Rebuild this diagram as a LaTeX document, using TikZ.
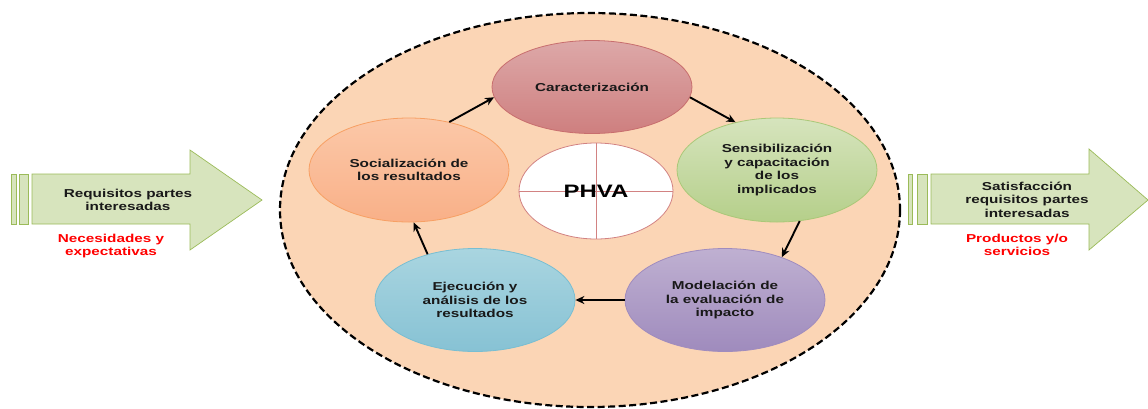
\documentclass[tikz,border=0pt]{standalone}
\usepackage{fontspec}
\setmainfont{Liberation Sans}
\newfontfamily\wf{Liberation Sans}[FakeStretch=1.33]
\usetikzlibrary{arrows.meta,shapes.geometric}
\definecolor{peach}{HTML}{FBD5B5}
\definecolor{grfill}{HTML}{D7E4BD}
\definecolor{grline}{HTML}{9BBB59}
\definecolor{carline}{RGB}{200,110,110}
\definecolor{cartop}{RGB}{221,168,168}
\definecolor{carbot}{RGB}{206,127,127}
\definecolor{senline}{RGB}{170,200,120}
\definecolor{sentop}{RGB}{214,228,189}
\definecolor{senbot}{RGB}{181,207,138}
\definecolor{modline}{RGB}{160,140,190}
\definecolor{modtop}{RGB}{191,176,209}
\definecolor{modbot}{RGB}{159,139,189}
\definecolor{ejeline}{RGB}{120,190,210}
\definecolor{ejetop}{RGB}{169,213,224}
\definecolor{ejebot}{RGB}{135,194,212}
\definecolor{socline}{RGB}{247,160,100}
\definecolor{soctop}{RGB}{251,200,168}
\definecolor{socbot}{RGB}{249,176,136}
\definecolor{phvaline}{RGB}{210,130,130}
\tikzset{
  x=1pt,y=-1pt,
  txt/.style={font=\wf\bfseries\fontsize{11.5}{13.5}\selectfont,align=center,text=black!90},
  redtxt/.style={font=\wf\bfseries\fontsize{11.5}{12.5}\selectfont,align=center,text=red},
  stage/.style={ellipse,minimum width=200pt,inner sep=0pt,line width=0.8pt,txt},
  flow/.style={line width=1.9pt,-{Stealth[length=9pt,width=8pt]}},
  blockarrow/.style={fill=grfill,draw=grline,line width=0.7pt},
}
\begin{document}
\begin{tikzpicture}
\useasboundingbox (0,0) rectangle (1148,408);
% big dashed ellipse
\draw[fill=peach,line width=2.2pt,dash pattern=on 7pt off 3.5pt] (590,210) ellipse [x radius=310,y radius=197];
% stage ellipses
\node[stage,minimum height=93pt,draw=carline,top color=cartop,bottom color=carbot] (car) at (592,87) {Caracterización};
\node[stage,minimum height=104pt,draw=senline,top color=sentop,bottom color=senbot] (sen) at (777,170) {Sensibilización\\y capacitación\\de los\\implicados};
\node[stage,minimum height=103pt,draw=modline,top color=modtop,bottom color=modbot] (mod) at (725,300) {Modelación de\\la evaluación de\\impacto};
\node[stage,minimum height=103pt,draw=ejeline,top color=ejetop,bottom color=ejebot] (eje) at (475,300) {Ejecución y\\análisis de los\\resultados};
\node[stage,minimum height=104pt,draw=socline,top color=soctop,bottom color=socbot] (soc) at (409,170) {Socialización de\\los resultados};
% PHVA
\node[ellipse,minimum width=154pt,minimum height=96pt,inner sep=0pt,fill=white,draw=phvaline,line width=0.8pt] (phva) at (596,191) {};
\draw[draw=phvaline,line width=0.8pt] (phva.north) -- (phva.south) (phva.west) -- (phva.east);
\node[font=\wf\bfseries\fontsize{18}{20}\selectfont] (phvat) at (596,191) {PHVA};
% connectors
\draw[flow] (soc.50) -- (car.186);
\draw[flow] (car.354) -- (sen.131);
\draw[flow] (sen.294) -- (mod.37);
\draw[flow] (mod.west) -- (eje.east);
\draw[flow] (eje.136) -- (soc.275);
% left block arrow
\draw[blockarrow] (11,174) rectangle (16,224);
\draw[blockarrow] (19,174) rectangle (28,224);
\draw[blockarrow] (32,174) -- (190,174) -- (190,150) -- (262,200) -- (190,250) -- (190,224) -- (32,224) -- cycle;
\node[txt] (lin) at (128,200) {Requisitos partes\\interesadas};
\node[redtxt] (lred) at (111,246) {Necesidades y\\expectativas};
% right block arrow
\draw[blockarrow] (908,174) rectangle (912,224);
\draw[blockarrow] (917,174) rectangle (927,224);
\draw[blockarrow] (931,174) -- (1089,174) -- (1089,149) -- (1148,200) -- (1089,250) -- (1089,224) -- (931,224) -- cycle;
\node[txt] (rin) at (1027,199.5) {Satisfacción\\requisitos partes\\interesadas};
\node[redtxt] (rred) at (1017,245) {Productos y/o\\servicios};
\end{tikzpicture}
\end{document}
